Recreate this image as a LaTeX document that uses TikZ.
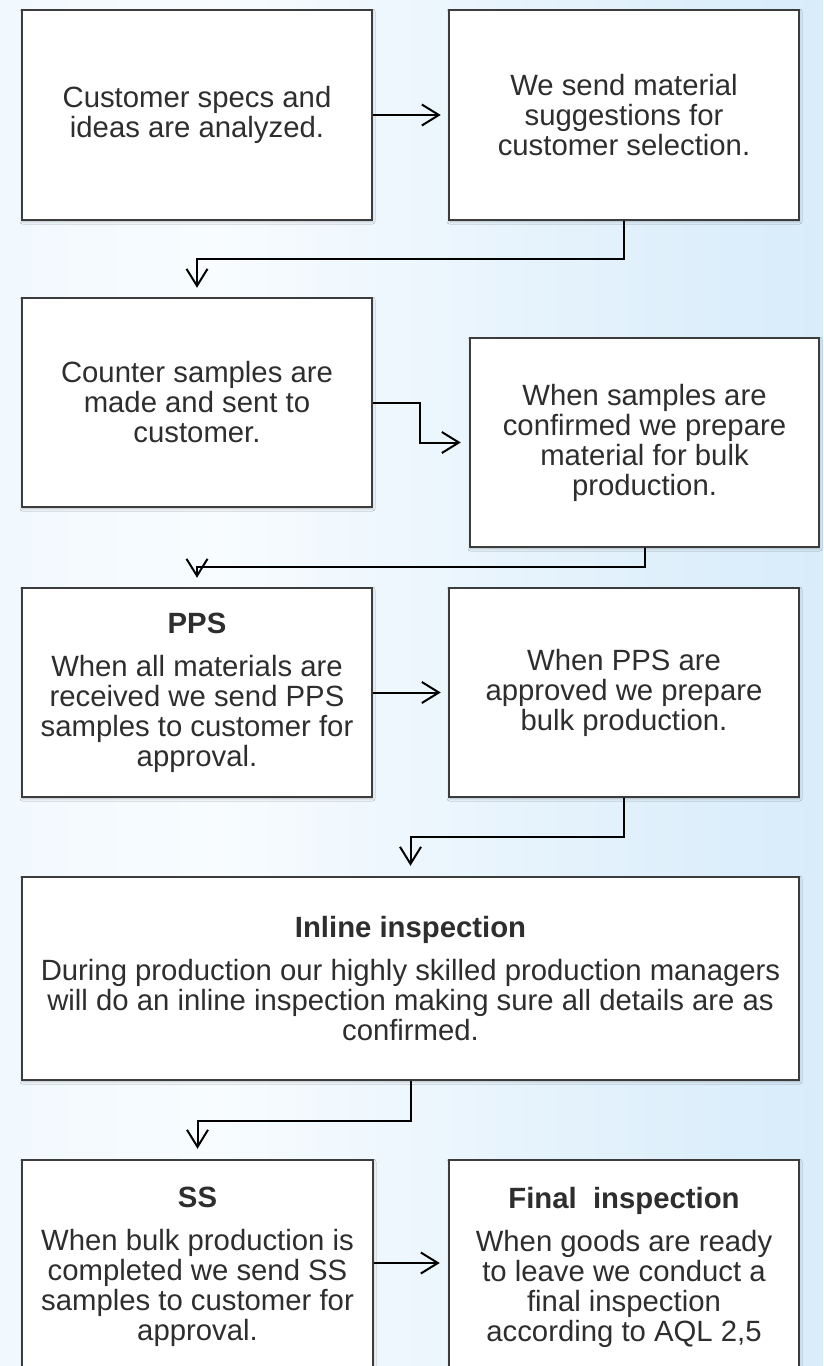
\documentclass[tikz,border=0pt]{standalone}
\usepackage{fontspec}
\setmainfont{Liberation Sans}
\usetikzlibrary{arrows.meta,shadows.blur}
\definecolor{bgA}{HTML}{CDE6F8}
\definecolor{bgB}{HTML}{EEF7FD}
\definecolor{bgC}{HTML}{F8FCFF}
\definecolor{bgD}{HTML}{E4F2FC}
\definecolor{bgE}{HTML}{CFE8F9}
\definecolor{bgF}{HTML}{B8DCF6}
\definecolor{txt}{HTML}{2E2E2E}
\definecolor{edge}{HTML}{3C3C3C}
\pgfdeclarehorizontalshading{bgshade}{100bp}{color(0bp)=(bgA); color(18bp)=(bgB); color(38bp)=(bgC); color(60bp)=(bgD); color(85bp)=(bgE); color(100bp)=(bgF)}
\tikzset{
  box/.style={draw=edge, line width=2.5pt, fill=white, align=center, text=txt,
    font=\fontsize{29.3pt}{30pt}\selectfont, inner sep=0pt,
    blur shadow={shadow xshift=0.5pt, shadow yshift=-1.5pt, shadow blur radius=2.5pt, shadow opacity=30}},
  arr/.style={draw=black, line width=2pt, -{Straight Barb[length=17pt,width=21pt,line width=2pt]}},
}
\newcommand{\ttl}[1]{\textbf{#1}\\[13pt]}
\begin{document}
\begin{tikzpicture}[x=1pt,y=-1pt]
\useasboundingbox (0,0) rectangle (823,1366);
\clip (0,0) rectangle (823,1366);
\shade[shading=bgshade] (0,0) rectangle (823,1366);

\node[box, minimum width=350pt, minimum height=210pt] (b1) at (197,115)
  {Customer specs and\\ideas are analyzed.};
\node[box, minimum width=350pt, minimum height=210pt] (b2) at (624,115)
  {We send material\\suggestions for\\customer selection.};
\node[box, minimum width=350pt, minimum height=209pt] (b3) at (197,402.5)
  {Counter samples are\\made and sent to\\customer.};
\node[box, minimum width=349pt, minimum height=209pt] (b4) at (644.5,442.5)
  {When samples are\\confirmed we prepare\\material for bulk\\production.};
\node[box, minimum width=350pt, minimum height=209pt] (b5) at (197,692.5)
  {\ttl{PPS}When all materials are\\received we send PPS\\samples to customer for\\approval.};
\node[box, minimum width=350pt, minimum height=209pt] (b6) at (624,692.5)
  {When PPS are\\approved we prepare\\bulk production.};
\node[box, minimum width=777pt, minimum height=203pt] (b7) at (410.5,978.5)
  {\ttl{Inline inspection}During production our highly skilled production managers\\will do an inline inspection making sure all details are as\\confirmed.};
\node[box, minimum width=351pt, minimum height=214pt] (b8) at (197.5,1267)
  {\ttl{SS}When bulk production is\\completed we send SS\\samples to customer for\\approval.};
\node[box, minimum width=350pt, minimum height=214pt] (b9) at (624,1267)
  {\ttl{Final\ \ inspection}When goods are ready\\to leave we conduct a\\final inspection\\according to AQL 2,5};

\draw[arr] (b1.east) -- ([xshift=-7pt]b2.west);
\draw[arr] (b2.south) -- ++(0,38) -| ([yshift=9pt]b3.north);
\draw[arr] (b3.east) -- ++(47,0) |- ([xshift=-8pt]b4.west);
\draw[arr] (b4.south) -- ++(0,19) -| ([yshift=9pt]b5.north);
\draw[arr] (b5.east) -- ([xshift=-7pt]b6.west);
\draw[arr] (b6.south) -- ++(0,39) -| ([yshift=10pt]b7.north);
\draw[arr] (b7.south) -- ++(0,40) -| ([yshift=10pt]b8.north);
\draw[arr] ([yshift=4pt]b8.east) -- ([xshift=-8pt,yshift=4pt]b9.west);
\end{tikzpicture}
\end{document}
